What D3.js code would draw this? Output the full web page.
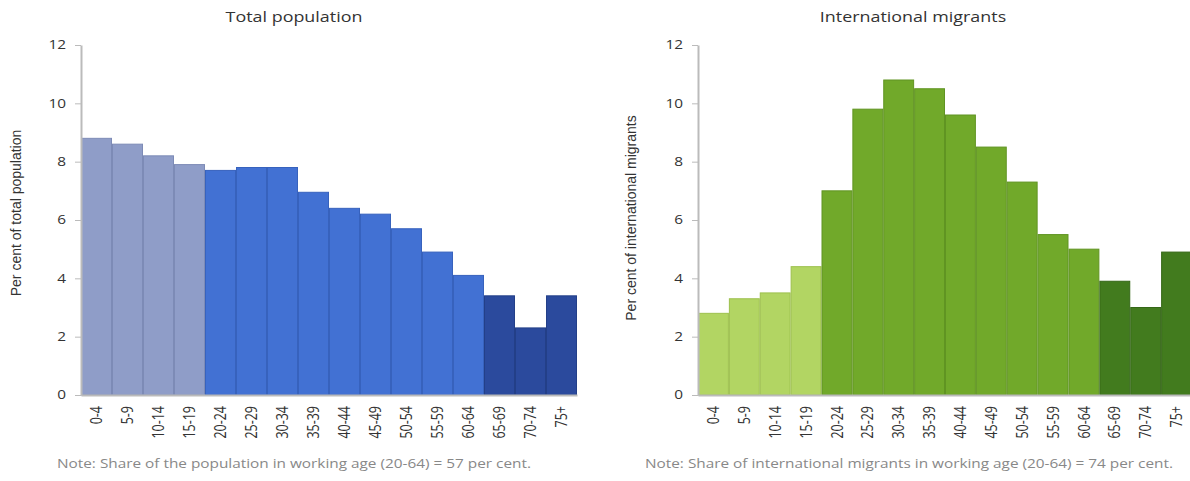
<!DOCTYPE html>
<meta charset="utf-8">
<style>
body { margin: 0; background: #fff; }
svg { display: block; }
.title { font: 14px "Open Sans", sans-serif; fill: #333; text-anchor: middle; }
.ylabel { font: 14px "Liberation Sans", Arial, sans-serif; fill: #333; text-anchor: middle; }
.axis text { font: 12px "Open Sans", sans-serif; fill: #333; }
.axis path, .axis line { stroke: #bbb; }
.note { font: 12px "Open Sans", sans-serif; fill: #888; }
</style>
<body>
<script src="https://cdn.jsdelivr.net/npm/d3@7/dist/d3.min.js"></script>
<script>

var ageGroups = ["0-4", "5-9", "10-14", "15-19", "20-24", "25-29", "30-34", "35-39",
                 "40-44", "45-49", "50-54", "55-59", "60-64", "65-69", "70-74", "75+"];
// which part of life each age group belongs to
var ageBands = ["young", "young", "young", "young",
                "working", "working", "working", "working", "working",
                "working", "working", "working", "working",
                "old", "old", "old"];
var totalPopulation = [8.8, 8.6, 8.2, 7.9, 7.7, 7.8, 7.8, 6.95, 6.4, 6.2, 5.7, 4.9, 4.1, 3.4, 2.3, 3.4];
var migrants = [2.8, 3.3, 3.5, 4.4, 7.0, 9.8, 10.8, 10.5, 9.6, 8.5, 7.3, 5.5, 5.0, 3.9, 3.0, 4.9];
var yTicks = [0, 2, 4, 6, 8, 10, 12];

var width = 1190, height = 481;
// the original picture is a little wider than it is tall, text included
var stretch = 1.28;

var svg = d3.select("body").append("svg")
    .attr("width", width)
    .attr("height", height);

var panels = [
  {values: totalPopulation, title: "Total population", ylabel: "Per cent of total population",
   note: "Note: Share of the population in working age (20-64) = 57 per cent.",
   x0: 81, x1: 577, titleX: 294, ylabelX: 17, ylabelY: 213, noteX: 57,
   fill: {young: "#8f9dc8", working: "#4271d3", old: "#2b4a9d"},
   edge: {young: "#7d8bb6", working: "#3762bd", old: "#233f88"}},
  {values: migrants, title: "International migrants", ylabel: "Per cent of international migrants",
   note: "Note: Share of international migrants in working age (20-64) = 74 per cent.",
   x0: 698, x1: 1192, titleX: 913, ylabelX: 632, ylabelY: 218, noteX: 645,
   fill: {young: "#b2d563", working: "#71a92a", old: "#427b1e"},
   edge: {young: "#9dc04d", working: "#609422", old: "#356717"}}
];

var y = d3.scaleLinear().domain([0, 12]).range([395, 45]);

panels.forEach(function(p) {
  var g = svg.append("g");

  var x = d3.scaleBand()
      .domain(ageGroups)
      .range([p.x0, p.x1])
      .padding(0);

  g.selectAll("rect")
      .data(p.values)
    .enter().append("rect")
      .attr("x", function(d, i) { return x(ageGroups[i]) + 0.5; })
      .attr("y", function(d) { return y(d); })
      .attr("width", x.bandwidth() - 1)
      .attr("height", function(d) { return y(0) - y(d); })
      .attr("fill", function(d, i) { return p.fill[ageBands[i]]; })
      .attr("stroke", function(d, i) { return p.edge[ageBands[i]]; })
      .attr("stroke-width", 1);

  // y axis
  var yAxis = g.append("g")
      .attr("class", "axis")
      .attr("transform", "translate(" + p.x0 + ",0)")
      .call(d3.axisLeft(y).tickValues(yTicks).tickSize(6).tickSizeOuter(0));
  yAxis.select(".domain").attr("stroke-width", 2);
  yAxis.selectAll("text")
      .attr("x", 0)
      .attr("transform", "translate(-15,0) scale(" + stretch + ",1)");

  // x axis, labels turned upright
  var xAxis = g.append("g")
      .attr("class", "axis")
      .attr("transform", "translate(0," + y(0) + ")")
      .call(d3.axisBottom(x).tickSize(0).tickSizeOuter(0));
  xAxis.select(".domain").attr("stroke-width", 2);
  xAxis.selectAll("text")
      .attr("transform", "rotate(-90) scale(1," + stretch + ")")
      .attr("x", -11)
      .attr("y", 0)
      .attr("dy", "0.35em")
      .style("font-size", "12.5px")
      .style("text-anchor", "end");

  g.append("text")
      .attr("class", "title")
      .attr("transform", "translate(" + p.titleX + ",22) scale(" + stretch + ",1)")
      .text(p.title);

  g.append("text")
      .attr("class", "ylabel")
      .attr("transform", "translate(" + (p.ylabelX + 4) + "," + p.ylabelY + ") rotate(-90)")
      .text(p.ylabel);

  g.append("text")
      .attr("class", "note")
      .attr("transform", "translate(" + p.noteX + ",468) scale(" + stretch + ",1)")
      .text(p.note);
});

</script>
</body>
